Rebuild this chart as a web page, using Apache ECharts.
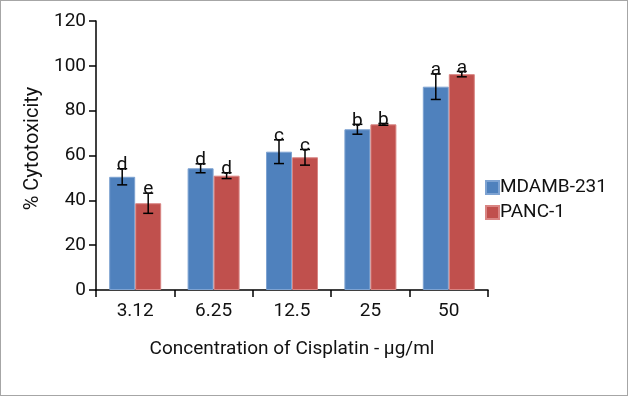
<!DOCTYPE html>
<html>
<head>
<meta charset="utf-8">
<script src="https://cdn.jsdelivr.net/npm/echarts@6/dist/echarts.min.js"></script>
<style>
html,body{margin:0;padding:0;background:#fff;}
#frame{position:absolute;left:0;top:0;width:626px;height:394px;border:1px solid #a6a6a6;}
#chart{position:absolute;left:0;top:0;width:628px;height:396px;}
</style>
</head>
<body>
<div id="frame"></div>
<div id="chart"></div>
<script>
const categories = ['3.12', '6.25', '12.5', '25', '50'];
const mdambValues = [50.5, 54.3, 61.7, 71.7, 90.7];
const mdambErrors = [3.6, 2.0, 5.3, 2.2, 5.7];
const mdambLetters = ['d', 'd', 'c', 'b', 'a'];
const pancValues = [38.7, 51.0, 59.2, 73.9, 96.3];
const pancErrors = [4.5, 1.3, 3.5, 0.4, 1.2];
const pancLetters = ['e', 'd', 'c', 'b', 'a'];
const yTicks = [0, 20, 40, 60, 80, 100, 120];

const FONT = 'Roboto';
const FS = 19;
const BAR_W = 26;
const TXT = '#111';

function errSeries(name, values, errors, letters, offset) {
  return {
    type: 'custom',
    name: name + ' err',
    z: 5,
    silent: true,
    data: values.map((v, i) => [i, v, errors[i]]),
    renderItem: function (params, api) {
      const i = api.value(0);
      const v = api.value(1);
      const e = api.value(2);
      const letter = letters[i];
      const hi = api.coord([i, v + e]);
      const lo = api.coord([i, v - e]);
      const x = hi[0] + offset;
      const cap = 5;
      const st = { stroke: '#000', lineWidth: 1.5 };
      return {
        type: 'group',
        children: [
          { type: 'line', shape: { x1: x, y1: hi[1], x2: x, y2: lo[1] }, style: st },
          { type: 'line', shape: { x1: x - cap, y1: hi[1], x2: x + cap, y2: hi[1] }, style: st },
          { type: 'line', shape: { x1: x - cap, y1: lo[1], x2: x + cap, y2: lo[1] }, style: st },
          { type: 'text', x: x, y: hi[1] + 6, style: { text: letter, fill: TXT, font: FS + 'px ' + FONT, textAlign: 'center', textVerticalAlign: 'bottom' } }
        ]
      };
    }
  };
}

const chart = echarts.init(document.getElementById('chart'));
chart.setOption({
  animation: false,
  textStyle: { fontFamily: FONT },
  grid: { left: 96, top: 21, right: 140, bottom: 106, containLabel: false },
  legend: {
    orient: 'vertical',
    left: 485,
    top: 178,
    padding: 0,
    itemWidth: 13,
    itemHeight: 13,
    itemGap: 6,
    icon: 'rect',
    textStyle: { fontFamily: FONT, fontSize: FS, color: TXT, padding: [0, 0, 0, -4] },
    data: ['MDAMB-231', 'PANC-1']
  },
  xAxis: {
    type: 'category',
    data: categories,
    name: 'Concentration of Cisplatin - µg/ml',
    nameLocation: 'middle',
    nameGap: 50,
    nameTextStyle: { fontFamily: FONT, fontSize: FS, color: TXT },
    axisLine: { lineStyle: { color: '#000', width: 1.5 } },
    axisTick: { show: true, length: 7, alignWithLabel: false, lineStyle: { color: '#000', width: 1.5 } },
    axisLabel: { margin: 12, fontFamily: FONT, fontSize: FS, color: TXT },
    splitLine: { show: false }
  },
  yAxis: {
    type: 'value',
    min: 0,
    max: 120,
    interval: 20,
    name: '% Cytotoxicity',
    nameLocation: 'middle',
    nameGap: 47,
    nameRotate: 90,
    nameTextStyle: { fontFamily: FONT, fontSize: 20, color: TXT, padding: [0, 0, 0, 14] },
    axisLine: { show: true, lineStyle: { color: '#000', width: 1.5 } },
    axisTick: { show: true, length: 7, lineStyle: { color: '#000', width: 1.5 } },
    axisLabel: { margin: 10, fontFamily: FONT, fontSize: FS, color: TXT,
      formatter: function (v) { return yTicks.indexOf(v) >= 0 ? String(v) : ''; } },
    splitLine: { show: false }
  },
  series: [
    {
      name: 'MDAMB-231', type: 'bar', data: mdambValues, barWidth: BAR_W, barGap: '0%',
      itemStyle: { color: '#4F81BD', borderColor: '#7ea3d2', borderWidth: 1 }
    },
    {
      name: 'PANC-1', type: 'bar', data: pancValues, barWidth: BAR_W, barGap: '0%',
      itemStyle: { color: '#C0504D', borderColor: '#d98583', borderWidth: 1 }
    },
    errSeries('MDAMB-231', mdambValues, mdambErrors, mdambLetters, -BAR_W / 2),
    errSeries('PANC-1', pancValues, pancErrors, pancLetters, BAR_W / 2)
  ]
});
</script>
</body>
</html>
